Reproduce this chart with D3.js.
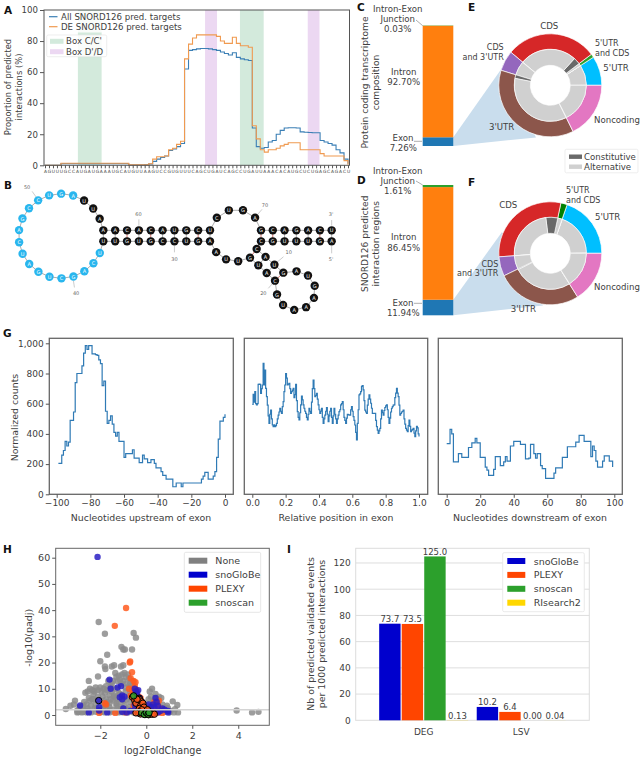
<!DOCTYPE html>
<html><head><meta charset="utf-8">
<script src="https://cdn.jsdelivr.net/npm/d3@7"></script>
<style>
html,body{margin:0;padding:0;background:#fff}
svg{display:block}
text{font-family:"DejaVu Sans",sans-serif;fill:#404040}
</style></head><body>
<svg id="c" width="642" height="759"></svg>
<script>
// ---------- DATA ----------
const sequence = "AGUUUGCCAUGAUGAAAUGCAUGUUAAGUCCGUGUUUCAGCUGAUCAGCCUGAUUAAACACAUGCUCUGAGCAGACU";
const allTargets = [0,0,0,0,1.1,1.1,1.1,1.1,1.1,1.1,1.1,1.1,1.1,1.1,1.1,1.1,1.1,1.1,1.1,1.1,1.1,0.2,0.2,0.2,0.2,0.3,0.8,2.5,4,5,6,9.5,10.5,12,14,62,74,74.5,75,75.2,75.2,75,74.5,74,73,72,71,72.5,69.5,68.5,68,67.5,24,12,11,11.5,15,16,20,22.5,24,24.2,24.2,24,21.5,21.3,21.1,21,21,16,15,14,13,10,8,4,1];
const deTargets = [0,0,0,0,1.3,1.3,1.3,1.3,1.3,1.3,1.3,1.3,1.3,1.3,1.3,1.3,1.3,1.3,1.3,1.3,1.3,0.3,0.3,0.3,0.3,0.3,1,4,5.5,5.5,6,10,11,13.5,15.5,68.5,78,82,84,84,84,84,84,83,80,78.5,78.5,82.5,78.5,77,77,76,25.5,17,10,8.5,10,10,11,12.5,13.5,14.5,14.5,14.5,10,10,10,10,10,7.5,6,6,6,6,6,3,0.3];
const boxCC = [[8.25,14.2],[48.9,54.85]];
const boxDD = [[40.15,43.15],[65.9,68.85]];

const barCats = ["Exon","Intron","Intron-Exon Junction"];
const barColors = ["#1f77b4","#ff7f0e","#2ca02c"];
const barC = [7.26,92.70,0.03];
const barD = [11.94,86.45,1.61];

const ringCats = ["5'UTR","5'UTR and CDS","CDS","CDS and 3'UTR","3'UTR","Noncoding"];
const ringE = [9.2,1.1,28.6,6.4,37,17.7];
const ringF = [19.7,2,29.4,6.1,26.7,16.1];
const constE = [0.1,0,3,0.1,1.6,0.1];
const altE = [9.1,1.1,25.6,6.3,35.4,17.6];
const constF = [0.2,0,5.3,0,0.3,0.1];
const altF = [19.5,2,24.1,6.1,26.4,16];

const upstreamX = d3.range(-99,1);
const upstream = [205,205,260,290,350,320,345,490,490,545,740,800,800,800,850,935,985,960,985,985,930,930,925,920,890,865,720,750,550,470,490,520,465,410,385,410,350,350,350,245,270,270,270,270,295,240,240,240,210,210,260,235,235,210,210,230,230,205,175,175,175,150,125,125,100,100,100,100,50,50,75,75,75,50,75,75,75,75,75,75,75,75,75,75,75,100,120,145,145,100,100,100,120,150,245,365,485,485,510,530];
const exonBody = [596,662,610,680,600,592,600,728,730,728,669,700,724,868,724,823,702,647,590,520,470,530,558,500,459,448,460,448,455,470,500,525,545,570,550,536,580,614,680,724,800,770,724,730,735,700,669,680,690,702,640,660,728,620,547,510,492,540,592,650,625,592,570,550,536,510,492,530,570,550,536,610,700,757,700,647,655,669,630,592,560,536,550,570,510,470,500,525,550,574,530,481,520,550,570,510,470,520,570,530,500,470,500,525,547,560,592,600,614,560,510,490,470,505,530,528,525,525,560,581,550,514,490,459,410,360,470,560,658,665,680,715,720,691,620,558,545,536,590,630,658,630,603,570,536,536,535,536,490,448,425,404,420,437,500,558,540,525,555,575,585,592,560,510,470,505,545,570,580,590,592,640,670,702,670,647,590,525,535,545,550,558,500,465,437,425,415,455,492,450,415,425,430,437,405,382,420,450,440,400,382];
const exonX = exonBody.map((_,i)=>i/(exonBody.length-1));
const downstreamX = d3.range(0,100);
const downstream = [335,335,430,400,215,215,215,270,270,245,245,245,245,310,310,340,340,370,340,340,245,245,245,180,160,125,125,125,165,250,250,250,190,190,215,250,220,220,320,320,350,350,350,350,330,330,330,235,235,240,330,330,270,240,270,270,190,170,170,105,105,105,105,105,140,175,175,175,175,245,245,245,315,315,315,315,315,345,345,390,390,390,350,350,350,350,250,320,290,220,180,180,180,220,255,255,255,220,220,180];

const noneX = [-2.07,-1.8,-0.55,-0.45,-1.08,-1.0,-0.93,-0.62,-1.7,-2.0,-1.8,-1.78,-1.5,-1.4,-1.1,-1.0,-0.95,-2.1,-2.5,-1.35,-1.2,-0.8,-0.75,-1.65,-1.0,-0.6,-1.25,-1.5,-0.85,-2.2,-2.45,-2.55,-2.65,-2.0,-1.85,-1.7,-1.5,-1.35,-1.6,-2.3,-2.1,-1.9,-2.5,-2.7,-3.1,-3.15,-3.3,-3.5,-2.9,-2.6,-2.4,-2.2,-1.7,-1.45,-1.2,-0.95,-1.3,-1.6,-1.9,-3,-2.8,-2.6,-2.4,-2.2,-2,-1.8,-1.6,-1.4,-1.2,-1,-0.8,0.25,0.15,0.4,0.2,0.55,0.65,0.5,0.7,0.9,0.95,1.15,1.35,1.25,1.38,1.2,1,3.93,4.6,4.88,0.3,0.6,0.8,-0.3,-0.1,-0.4,-0.7,-0.5,-1.15,-0.9,-0.65,-1.4,-2.35,-1.55,-1.75,-2.15,-1.05,-0.8,-0.55,-0.15,0.05,-0.6,-1.9,-2.75,-1.1,-0.75,-1.3,-2.0,0.35,0.45,
 -2.9,-2.75,-2.55,-2.45,-2.3,-2.35,-2.25,-2.1,-1.95,-1.8,-1.75,-1.55,-1.45,-1.3,-1.15,-1.05,-0.9,-0.7,-0.65,-0.9,-1.2,-1.4,-1.75,-2.05,-2.25,-2.55,-1.5,-1.25,-1.1,-0.85,-0.7,-0.75,-0.6,-0.4,-0.9,-1.6,-1.85,-1.3,-1.0,-0.65,0.1,0.3,0.45,0.6,0.75,0.85,1.05,0.15,0,-0.2,-2.75,-2.95,-3.0,-1.95,-1.65,-1.15,-0.55,-0.4,0.05,0.25];
const noneY = [35.5,31,31.3,29.5,26,25,25,25,23,20.5,18.5,17.5,18.5,19,18.5,19,16,14.7,13,16,15,15.5,14,13,13,13,13,12,12,10.5,10,9,8.5,10.5,10,9.5,9,10,7.5,8,7,7,6.5,5,5.5,4,3.5,2.3,3,4,3.5,4,5,5.5,5,4,3.5,3,2.5,1,1,1,1,1.2,1.3,1,1,1.2,1,1,1,10,9,8,7,7,6.5,5,4,3.5,2.5,5.2,3.8,2.2,1,1,1,1.7,1,1.2,2,1.5,1.2,6,4,9,9,8,8,9,11,7,6,6,3,2.5,2.5,2,3,2,1.5,11.5,4,2,12,7,4.5,5.5,3,5,
 2,3.5,2.5,5.5,6,9.5,9,9.5,9,8.5,11,11,13,14.5,13.5,15.5,14.5,12,11,10.5,8.5,7.5,6,5,2.5,1.5,2,2.5,3,6,5,3,2,1.5,2,4.5,3.5,6.5,5.5,7.5,6,5.5,6,3,1.5,2.8,1.5,1.5,2.5,2,1.2,1.1,1.7,1.1,1.3,1.3,1,3,3.5,3.5];
const plexyX = [-0.88,-1.37,-0.7,-0.62,-0.47,-0.75,-0.6,-0.5,-1.8,-2.05,-1.35,-0.35,-0.3,-0.2,0.35,0.5,0.6,0.1,0.45,0.2,-0.72,-0.68,-0.55,-0.5,-0.58,-0.45,-0.42,-0.32,-0.68,-1.75,-0.9,0.3,0.45,0.55,0.25,0.55,0.7,-0.4,-0.55,-0.25];
const plexyY = [40.8,34,20.4,16.3,12.5,10,9.5,7,4.5,0.8,0.8,5.5,4,3,5,4,2.5,2.5,1,0.8,20,14,13,11,9,9.5,6.5,7,7.5,4,1,3,2.5,5.5,1.5,1,0.8,5,3.5,6.5];
const globeX = [-2.12,-1.6,-1.55,-1.25,-1.1,-1.05,-1.15,-0.95,-0.5,-0.45,-0.4,-0.3,-2.88,-2.5,-2.05,-1.7,-1,-0.85,-0.5,-0.2,0.1,0.2,0.4,0.5,0.7,0.95,0.05,0.3,-0.05,-1.05,-0.42,-0.35,-0.25,-0.5,0.3,0.45,0.35,0.6,0.8,0.95,0.5,-0.15,-0.7,-2.05,-1.05];
const globeY = [60.3,13.5,10,10.5,11,7.5,6.8,7,10,9,8,6.5,3.6,1,3,1,2.5,1,2,3.5,4,3,6.5,3.5,2.5,1.5,1,1,2,6,7,9.5,5,4,4,5,3,1.5,2,1,1,1,1.5,1.7,1.2];
const edgedBlueX = [-2.07,-0.3,-0.15];
const edgedBlueY = [5.5,6.4,3];
const edgedPlexyX = [-0.6,-0.5,-0.45,-0.35,-0.28,-0.2,-0.25,-0.3,-0.15,-0.35,-0.25,-0.1,0,0.05,0.15,0.2,0.3,-0.05,0.1,-0.4,-0.15,-0.1,0.05,0.25,-0.2,-0.3,-0.45,0.35];
const edgedPlexyY = [6.8,5.5,4.5,6.2,5.8,5,3.5,2.5,1.5,0.8,0.4,0.5,0.5,1,0.4,1,0.7,0.2,0.1,6,4.5,3,2,0.3,2,1.2,0.8,0.3];
const edgedScanX = [-0.55,-0.2,-0.08,0,0.08,0.12];
const edgedScanY = [7.3,0.8,0.2,0.9,0.3,0.9];

const toolNames = ["snoGloBe","PLEXY","snoscan","RIsearch2"];
const toolColors = ["#0000cd","#ff4500","#2ca02c","#ffd700"];
const evGroups = ["DEG","LSV"];
const evDEG = [73.7,73.5,125.0,0.13];
const evLSV = [10.2,6.4,0.00,0.04];
const evLabelsDEG = ["73.7","73.5","125.0","0.13"];
const evLabelsLSV = ["10.2","6.4","0.00","0.04"];

// ---------- HELPERS ----------
const svg = d3.select("#c");
const TXT = "#404040", SP = "#555";
function T(g,x,y,s,fs,anchor,rot){
  const t=g.append("text").attr("font-size",fs).attr("text-anchor",anchor||"middle").attr("dominant-baseline","central").text(s);
  if(rot!=null) t.attr("transform",`translate(${x},${y}) rotate(${rot})`); else t.attr("x",x).attr("y",y);
  return t;
}
function frame(g,x0,y0,x1,y1,c,w){g.append("rect").attr("x",x0).attr("y",y0).attr("width",x1-x0).attr("height",y1-y0).attr("fill","none").attr("stroke",c).attr("stroke-width",w);}
function styleAxis(a,fs,color){a.select(".domain").remove();a.selectAll("line").attr("stroke",color||SP).attr("stroke-width",1);a.selectAll("text").attr("font-size",fs).attr("font-family",'"DejaVu Sans"').attr("fill",TXT);}
function letter(s,x,y){svg.append("text").attr("x",x).attr("y",y).attr("font-size",10.5).attr("font-weight","bold").style("fill","#111").text(s);}
const stepLine=(xs,ys,x,y,curve)=>d3.line().x((_,i)=>x(xs[i])).y(d=>y(d)).curve(curve||d3.curveStepAfter)(ys);

[["A",4,14],["B",4,189],["C",357,11],["E",468,11],["D",357,184],["F",468,186],["G",3,337],["H",3,553],["I",287,553]].forEach(d=>letter(...d));

// ---------- PANEL A ----------
{
 const g=svg.append("g");
 const x=d3.scaleLinear().domain([0,76]).range([45,348]);
 const y=d3.scaleLinear().domain([0,100]).range([165.3,10]);
 boxCC.forEach(b=>g.append("rect").attr("x",x(b[0])).attr("width",x(b[1])-x(b[0])).attr("y",y(100)).attr("height",y(0)-y(100)).attr("fill","#d3eadc"));
 boxDD.forEach(b=>g.append("rect").attr("x",x(b[0])).attr("width",x(b[1])-x(b[0])).attr("y",y(100)).attr("height",y(0)-y(100)).attr("fill","#ecd8f2"));
 const idx=d3.range(sequence.length);
 g.append("path").attr("d",stepLine(idx,allTargets,x,y)).attr("fill","none").attr("stroke","#3b7fb5").attr("stroke-width",1.1);
 g.append("path").attr("d",stepLine(idx,deTargets,x,y)).attr("fill","none").attr("stroke","#f09a50").attr("stroke-width",1.1);
 frame(g,44,10,349.5,165.3,SP,1);
 const ya=g.append("g").attr("transform","translate(44,0)").call(d3.axisLeft(y).tickValues([0,20,40,60,80,100]).tickSize(4).tickPadding(2));
 styleAxis(ya,8.6);
 const xa=g.append("g").attr("transform","translate(0,165.3)").call(d3.axisBottom(x).tickValues(idx).tickFormat(i=>sequence[i]).tickSize(3).tickPadding(1.5));
 styleAxis(xa,4.4);
 xa.selectAll("text").attr("fill","#555");
 T(g,8,87,"Proportion of predicted",8.4,"middle",-90);
 T(g,18.5,87,"interactions (%)",8.4,"middle",-90);
 g.append("rect").attr("x",46.7).attr("y",11).attr("width",136.5).attr("height",21.5).attr("fill","#fff").attr("fill-opacity",.85);
 [[ "All SNORD126 pred. targets","#3b7fb5",16.7],["DE SNORD126 pred. targets","#f09a50",26.7]].forEach(d=>{
   g.append("line").attr("x1",49).attr("x2",57.5).attr("y1",d[2]).attr("y2",d[2]).attr("stroke",d[1]).attr("stroke-width",1.2);
   T(g,61,d[2],d[0],8.6,"start");
 });
 g.append("rect").attr("x",46.7).attr("y",35).attr("width",60).attr("height",21.7).attr("rx",1.5).attr("fill","#fff").attr("fill-opacity",.85).attr("stroke","#e6e6e6").attr("stroke-width",.7);
 [["Box C/C'","#d3eadc",41.3],["Box D'/D","#ecd8f2",51.7]].forEach(d=>{
   g.append("rect").attr("x",50).attr("y",d[2]-2.5).attr("width",13.5).attr("height",5).attr("fill",d[1]);
   T(g,66,d[2],d[0],8.6,"start");
 });
}

// ---------- PANEL B ----------
{
 const g=svg.append("g");
 const px=d3.scaleLinear().domain([0,3]).range([0,1]);
 const py=d3.scaleLinear().domain([0,3]).range([175,176]);
 const P={};
 const lerp=(a,b,n0,n1)=>{const n=Math.abs(n1-n0),s=Math.sign(n1-n0);for(let k=0;k<=n;k++)P[n0+s*k]=[a[0]+(b[0]-a[0])*k/n,a[1]+(b[1]-a[1])*k/n];};
 lerp([995,199],[783,199],1,7);
 lerp([995,166],[783,166],77,71);
 lerp([310,166],[630,166],57,66);
 lerp([310,199],[630,199],36,27);
 lerp([770,222],[850,293],8,11);
 lerp([750,248],[825,317],23,20);
 const arc=(c,r,i0,i1,a0,a1)=>{const n=i1-i0;for(let k=1;k<n;k++){const a=(a0+(a1-a0)*k/n)*Math.PI/180;P[i0+k]=[c[0]+r*Math.cos(a),c[1]+r*Math.sin(a)];}};
 const ang=(c,p)=>{let a=Math.atan2(p[1]-c[1],p[0]-c[0])*180/Math.PI;return a<0?a+360:a;};
 const c1=[183,183];arc(c1,127,36,57,ang(c1,P[36]),ang(c1,P[57]));
 const c2=[708,181];arc(c2,78,66,71,ang(c2,P[66]),ang(c2,P[71]));
 arc(c2,78,23,27,ang(c2,P[23]),ang(c2,P[27]));
 const c3=[888,347];arc(c3,58,11,20,ang(c3,P[11]),ang(c3,P[20])+360);
 const X=d=>px(d[0]),Y=d=>py(d[1]);
 const nums=d3.range(1,78);
 g.append("path").attr("d",d3.line().x(i=>X(P[i])).y(i=>Y(P[i]))(nums)).attr("fill","none").attr("stroke","#8a8a8a").attr("stroke-width",.7);
 const pairs=[];for(let k=0;k<7;k++)pairs.push([1+k,77-k]);for(let k=0;k<4;k++)pairs.push([8+k,23-k]);for(let k=0;k<10;k++)pairs.push([27+k,66-k]);
 pairs.forEach(p=>{const s=sequence[p[0]-1]+sequence[p[1]-1];const gc=s==="GC"||s==="CG";
   g.append("line").attr("x1",X(P[p[0]])).attr("y1",Y(P[p[0]])).attr("x2",X(P[p[1]])).attr("y2",Y(P[p[1]])).attr("stroke",gc?"#c0392b":"#8a8a8a").attr("stroke-width",.7);});
 const marks=[[77,"3'",[-2,-49],[0,-31],[0,-14]],[1,"5'",[-2,53],[0,36],[0,14]],[60,"60",[-1,-49],[0,-33],[0,-14]],[30,"30",[0,53],[0,33],[0,14]],[70,"70",[30,-37],[21,-25],[8,-10]],[40,"40",[8,50],[3,33],[0,13]],[50,"50",[-33,-41],[-18,-27],[-6,-10]],[10,"10",[43,-37],[27,-24],[7,-7]],[20,"20",[-35,38],[-20,23],[-7,8]]];
 marks.forEach(m=>{const p=P[m[0]];
   g.append("line").attr("x1",X([p[0]+m[3][0],0])).attr("y1",Y([0,p[1]+m[3][1]])).attr("x2",X([p[0]+m[4][0],0])).attr("y2",Y([0,p[1]+m[4][1]])).attr("stroke","#aaa").attr("stroke-width",.6);
   T(g,X([p[0]+m[2][0],0]),Y([0,p[1]+m[2][1]]),m[1],5,"middle").style("fill","#666");});
 const blue=i=>i>=37&&i<=53;
 nums.forEach(i=>{
   g.append("circle").attr("cx",X(P[i])).attr("cy",Y(P[i])).attr("r",4.2).attr("fill",blue(i)?"#29b6ee":"#111");
   T(g,X(P[i]),Y(P[i])+.1,sequence[i-1],5,"middle").style("fill","#fff");
 });
}

// ---------- PANELS C,D + E,F ----------
const ringColors={ "5'UTR":"#00bfff","5'UTR and CDS":"#2ca02c","CDS":"#d62728","CDS and 3'UTR":"#9467bd","3'UTR":"#8c564b","Noncoding":"#e377c2"};
function stackBar(g,vals,top,bottom,wedge){
 const y=d3.scaleLinear().domain([0,100]).range([bottom,top]);
 const x0=422.7,x1=453.3;
 g.append("polygon").attr("points",[[x1,y(vals[0])],wedge[0],wedge[1],[x1,y(0)]].join(" ")).attr("fill","#c9dded");
 let acc=0;vals.forEach((v,i)=>{g.append("rect").attr("x",x0).attr("width",x1-x0).attr("y",y(acc+v)).attr("height",Math.max(y(acc)-y(acc+v),.3)).attr("fill",barColors[i]);acc+=v;});
}
function donut(g,cx,cy,outer,constv,alt,green){
 const G=g.append("g").attr("transform",`translate(${cx},${cy})`);
 const pie=d3.pie().sort(null).startAngle(Math.PI/2).endAngle(Math.PI/2-2*Math.PI);
 const ao=d3.arc().innerRadius(36).outerRadius(51.5);
 const ai=d3.arc().innerRadius(20).outerRadius(36);
 G.selectAll(".o").data(pie(outer)).join("path").attr("d",ao).attr("fill",(d,i)=>i===1?green:ringColors[ringCats[i]]).attr("stroke","#fff").attr("stroke-width",.7);
 const inner=[];const cols=[];
 ringCats.forEach((c,i)=>{inner.push(constv[i],alt[i]);cols.push("#696969","#d0d0d0");});
 G.selectAll(".i").data(pie(inner)).join("path").attr("d",ai).attr("fill",(d,i)=>cols[i]).attr("stroke","#fff").attr("stroke-width",.6);
}
{
 const g=svg.append("g");
 stackBar(g,barC,25.7,146,[[502,68],[536,137.4]]);
 stackBar(g,barD,185,315.3,[[502,232],[543,305.5]]);
 donut(g,550.3,85.3,ringE,constE,altE,"#2ca02c");
 donut(g,550.3,253.3,ringF,constF,altF,"#008000");
 const f=8.6, f2=8;
 T(g,365,82.5,"Protein coding transcriptome",9.1,"middle",-90);
 T(g,376,82.5,"composition",9.1,"middle",-90);
 T(g,365,243.8,"SNORD126 predicted",9.1,"middle",-90);
 T(g,376,243.8,"interaction regions",9.1,"middle",-90);
 const lbl=(L)=>L.forEach(d=>T(g,d[0],d[1],d[2],d[3]||f,d[4]||"middle"));
 lbl([[397.7,9,barCats[2].split(" ")[0]],[397.7,19.3,barCats[2].split(" ")[1]],[397.7,29,barC[2].toFixed(2)+"%"],
  [403.7,72,barCats[1]],[403.7,82.3,barC[1].toFixed(2)+"%"],[403,138,barCats[0]],[403.3,148.3,barC[0].toFixed(2)+"%"],
  [397.7,170.7,barCats[2].split(" ")[0]],[397.7,181,barCats[2].split(" ")[1]],[397.7,191.3,barD[2].toFixed(2)+"%"],
  [403.7,237.3,barCats[1]],[403.7,247.7,barD[1].toFixed(2)+"%"],[403,303.3,barCats[0]],[403.3,313.3,barD[0].toFixed(2)+"%"],
  [549.3,25.7,"CDS"],[603.3,67.7,"5'UTR",f,"start"],[594,120,"Noncoding",f,"start"],[489,126.7,"3'UTR",f,"start"],
  [508.3,205,"CDS"],[595,217.3,"5'UTR",f,"start"],[594,287,"Noncoding",f,"start"],[510.7,309,"3'UTR",f,"start"],
  [503.7,47.8,"CDS",f2,"end"],[503.7,57.2,"and 3'UTR",f2,"end"],
  [595,43.8,"5'UTR",f2,"start"],[595,53.2,"and CDS",f2,"start"],
  [566,190.6,"5'UTR",f2,"start"],[566,200,"and CDS",f2,"start"],
  [498.3,264.5,"CDS",f2,"end"],[498.3,273.9,"and 3'UTR",f2,"end"]]);
 [[416,20,422.7,25.7],[414,141.3,422,141.3],[416,181,422.7,185],[414,303.3,422,303.3]].forEach(d=>g.append("line").attr("x1",d[0]).attr("y1",d[1]).attr("x2",d[2]).attr("y2",d[3]).attr("stroke","#777").attr("stroke-width",.6));
 g.append("rect").attr("x",565).attr("y",149.3).attr("width",73).attr("height",23.5).attr("rx",1.5).attr("fill","#fff").attr("stroke","#e6e6e6").attr("stroke-width",.7);
 [["Constitutive","#696969",156.7],["Alternative","#d0d0d0",166.7]].forEach(d=>{
  g.append("rect").attr("x",569).attr("y",d[2]-2.2).attr("width",13).attr("height",4.4).attr("fill",d[1]);
  T(g,584,d[2],d[0],f,"start");});
}

// ---------- PANEL G ----------
{
 const g=svg.append("g");
 const y=d3.scaleLinear().domain([0,1000]).range([494.3,343.3]);
 const panels=[
  {l:49.3,r:233.3,d:[-100,0],rg:[56.7,225],t:[-100,-80,-60,-40,-20,0],f:d3.format("d"),xs:upstreamX,ys:upstream,lab:"Nucleotides upstream of exon",c:141,yAxis:true},
  {l:244.3,r:427.7,d:[0,1],rg:[252.3,419],t:[0,.2,.4,.6,.8,1],f:d3.format(".1f"),xs:exonX,ys:exonBody,lab:"Relative position in exon",c:336},
  {l:438.3,r:622.3,d:[0,100],rg:[446.7,614.3],t:[0,20,40,60,80,100],f:d3.format("d"),xs:downstreamX,ys:downstream,lab:"Nucleotides downstream of exon",c:530}];
 panels.forEach(p=>{
  const x=d3.scaleLinear().domain(p.d).range(p.rg);
  g.append("path").attr("d",stepLine(p.xs,p.ys,x,y)).attr("fill","none").attr("stroke","#2f7ab5").attr("stroke-width",1.2);
  frame(g,p.l,338.3,p.r,494.3,"#666",1.3);
  const xa=g.append("g").attr("transform","translate(0,494.3)").call(d3.axisBottom(x).tickValues(p.t).tickFormat(p.f).tickSize(3.5).tickPadding(2));
  styleAxis(xa,9);
  T(g,p.c,517,p.lab,9.4);
  if(p.yAxis){const ya=g.append("g").attr("transform",`translate(${p.l},0)`).call(d3.axisLeft(y).tickValues([0,200,400,600,800,1000]).tickSize(3.5).tickPadding(2));styleAxis(ya,9);}
 });
 T(g,14,417.5,"Normalized counts",9.4,"middle",-90);
}

// ---------- PANEL H ----------
{
 const g=svg.append("g");
 const x=d3.scaleLinear().domain([-3.94,5.35]).range([55.7,269.3]);
 const y=d3.scaleLinear().domain([0,60]).range([715,557.7]);
 const pts=(xs,ys,fill,edge)=>g.append("g").selectAll("circle").data(xs).join("circle").attr("cx",d=>x(d)).attr("cy",(d,i)=>y(ys[i])).attr("r",3.2).attr("fill",fill).attr("fill-opacity",.85).attr("stroke",edge||"none").attr("stroke-width",edge?1:0);
 pts(noneX,noneY,"#8c8c8c");
 pts(plexyX,plexyY,"#ff5a1f");
 pts(globeX,globeY,"#2a1fc4");
 pts(edgedBlueX,edgedBlueY,"#2a1fc4","#000");
 pts(edgedPlexyX,edgedPlexyY,"#ff5a1f","#000");
 pts(edgedScanX,edgedScanY,"#2ca02c","#000");
 g.append("line").attr("x1",55.7).attr("x2",269.3).attr("y1",y(2)).attr("y2",y(2)).attr("stroke","#d4d4d4").attr("stroke-width",1.5);
 frame(g,55.7,548.3,269.3,725.3,"#666",1);
 const ya=g.append("g").attr("transform","translate(55.7,0)").call(d3.axisLeft(y).tickValues([0,10,20,30,40,50,60]).tickSize(3.5).tickPadding(2));styleAxis(ya,9.5);
 const xa=g.append("g").attr("transform","translate(0,725.3)").call(d3.axisBottom(x).tickValues([-2,0,2,4]).tickSize(3.5).tickPadding(3));styleAxis(xa,9.5);
 T(g,162.7,750.7,"log2FoldChange",9.6);
 T(g,28.3,637.8,"-log10(padj)",9.5,"middle",-90);
 g.append("rect").attr("x",184.3).attr("y",552.3).attr("width",76.4).attr("height",60).attr("rx",1.5).attr("fill","#fff").attr("stroke","#e0e0e0").attr("stroke-width",.8);
 [["None","#808080",560.7],[toolNames[0],toolColors[0],574.7],[toolNames[1],toolColors[1],588.7],[toolNames[2],toolColors[2],602.7]].forEach(d=>{
  g.append("rect").attr("x",188.7).attr("y",d[2]-3).attr("width",18.6).attr("height",6).attr("fill",d[1]);
  T(g,215.3,d[2],d[0],9.5,"start");});
}

// ---------- PANEL I ----------
{
 const g=svg.append("g");
 const x=d3.scaleBand().domain(evGroups).range([374.9,570]);
 const sub=d3.scaleBand().domain(toolNames).range([-44.5,44.5]).paddingInner(.05);
 const y=d3.scaleLinear().domain([0,131.2]).range([720.3,548.3]);
 const ya=d3.axisLeft(y).tickValues([0,20,40,60,80,100,120]).tickSize(0).tickPadding(5);
 const yg=g.append("g").attr("transform","translate(355.7,0)").call(ya);styleAxis(yg,9);
 [20,40,60,80,100,120].forEach(v=>g.append("line").attr("x1",355.7).attr("x2",589.3).attr("y1",y(v)).attr("y2",y(v)).attr("stroke","#dedede").attr("stroke-width",1));
 frame(g,355.7,548.3,589.3,720.3,"#dcdcdc",1);
 evGroups.forEach((grp,j)=>{
  const vals=j?evLSV:evDEG,labs=j?evLabelsLSV:evLabelsDEG,c=x(grp)+x.bandwidth()/2;
  toolNames.forEach((t,i)=>{
   g.append("rect").attr("x",c+sub(t)).attr("width",sub.bandwidth()).attr("y",y(vals[i])).attr("height",y(0)-y(vals[i])).attr("fill",toolColors[i]);
   T(g,c+sub(t)+sub.bandwidth()/2,y(vals[i])-4.5,labs[i],8.5);
  });
  T(g,c,732,grp,9);
 });
 T(g,310,634,"Nb of predicted validated events",9.4,"middle",-90);
 T(g,321.7,634,"per 1000 predicted interactions",9.4,"middle",-90);
 g.append("rect").attr("x",502.7).attr("y",552.7).attr("width",81.6).attr("height",59).attr("rx",1.5).attr("fill","#fff").attr("stroke","#e4e4e4").attr("stroke-width",.8);
 toolNames.forEach((t,i)=>{const yy=561+i*13.9;
  g.append("rect").attr("x",507.3).attr("y",yy-3).attr("width",18).attr("height",6).attr("fill",toolColors[i]);
  T(g,533.7,yy,t,9.5,"start");});
}
</script>
</body></html>
